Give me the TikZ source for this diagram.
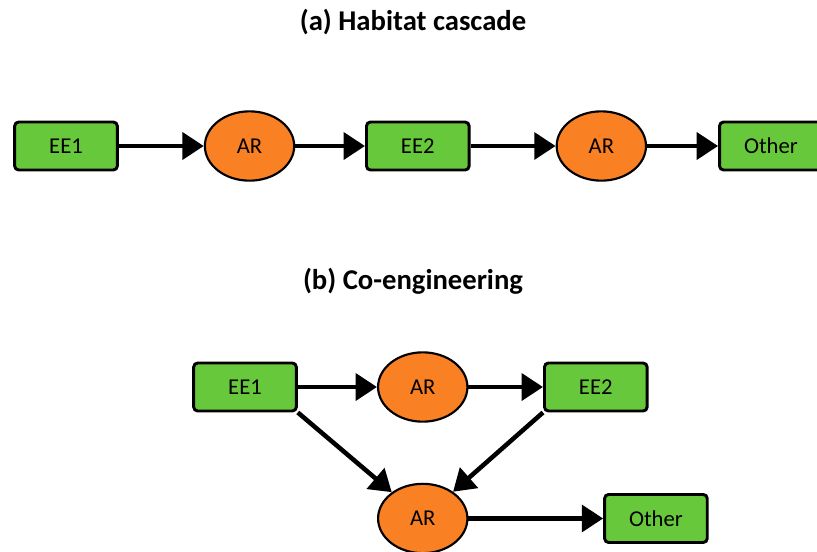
\documentclass[tikz,border=0pt]{standalone}
\usepackage{fontspec}
\setmainfont{Carlito}
\usetikzlibrary{shapes,
                arrows.meta,
                positioning}
\definecolor{boxgreen}{RGB}{104,200,60}
\definecolor{arorange}{RGB}{250,128,36}
\tikzset{engineer/.style =
   {rectangle,
    draw,
    fill=boxgreen,
    rounded corners=3pt,
    line width=2.2pt,
    minimum width=77pt,
    minimum height=36pt,
    font=\fontsize{17}{20}\selectfont}}
\tikzset{response/.style =
   {ellipse,
    draw,
    fill=arorange,
    line width=1.6pt,
    inner sep=0pt,
    minimum width=67pt,
    minimum height=52pt,
    font=\fontsize{17}{20}\selectfont}}
\tikzset{heading/.style =
   {font=\bfseries\fontsize{21.5}{26}\selectfont}}
\tikzset{arrow/.style = {draw, line width=3.4pt, -{Triangle[length=16pt,width=20pt]}}}
\begin{document}
\begin{tikzpicture}[x=0.75pt, y=-0.75pt]

    \useasboundingbox (0,0) rectangle (817,551);

    % (a) habitat cascade
    \node [heading] (title-a) at (413,22) {(a) Habitat cascade};

    \node [engineer] (ee1-a) at (66,146) {EE1};

    \node [response,
           right = 63.75pt of ee1-a] (ar1-a) {AR};

    \node [engineer,
           right = 52.3pt of ar1-a] (ee2-a) {EE2};

    \node [response,
           right = 63.75pt of ee2-a] (ar2-a) {AR};

    \node [engineer,
           right = 53.25pt of ar2-a] (other-a) {Other};

    \draw [arrow] (ee1-a) -- (ar1-a);
    \draw [arrow] (ar1-a) -- (ee2-a);
    \draw [arrow] (ee2-a) -- (ar2-a);
    \draw [arrow] (ar2-a) -- (other-a);

    % (b) co-engineering
    \node [heading] (title-b) at (413,281) {(b) Co-engineering};

    \node [engineer] (ee1-b) at (245,387) {EE1};

    \node [response,
           right = 59.4pt of ee1-b] (ar1-b) {AR};

    \node [engineer,
           right = 55.9pt of ar1-b] (ee2-b) {EE2};

    \node [response,
           below = 45pt of ar1-b] (ar2-b) {AR};

    \node [engineer,
           right = 101pt of ar2-b] (other-b) {Other};

    \draw [arrow] (ee1-b) -- (ar1-b);
    \draw [arrow] (ar1-b) -- (ee2-b);
    \draw [arrow] (ee1-b.south east) -- (ar2-b);
    \draw [arrow] (ee2-b.south west) -- (ar2-b);
    \draw [arrow] (ar2-b) -- (other-b);

\end{tikzpicture}
\end{document}
